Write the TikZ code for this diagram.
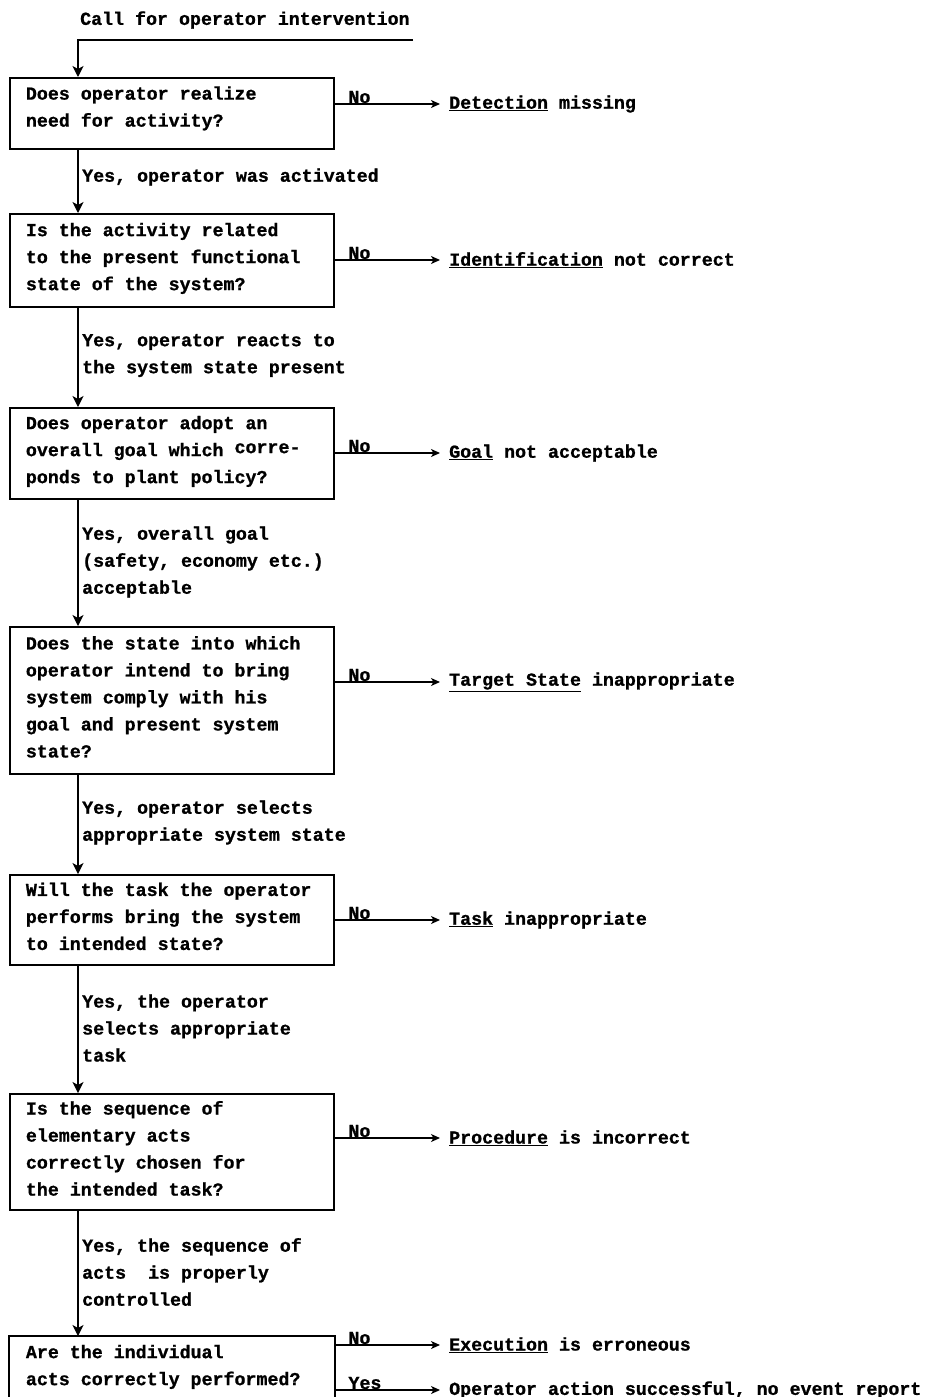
\documentclass[tikz,border=0pt]{standalone}
\usepackage{fontspec}
\setmonofont{Liberation Mono}[BoldFeatures={FakeBold=1}]
\usetikzlibrary{arrows.meta}
\newcommand\boxpad[1]{\endgraf\vspace*{#1}}
\begin{document}
\begin{tikzpicture}[x=1pt,y=-1pt,
  every node/.style={font=\ttfamily\bfseries\fontsize{18.3}{27}\selectfont, inner sep=0pt},
  qbox/.style={draw, line width=1.8pt, anchor=north west, text width=292pt, inner xsep=16pt, inner ysep=0pt, align=flush left, execute at end node={\boxpad{7pt}}},
  boxline/.style={line width=1.8pt},
  flow/.style={line width=1.4pt, -{Stealth[length=11pt,width=11pt,inset=3pt]}},
  side/.style={line width=1.3pt, -{Stealth[length=9pt,width=8pt,inset=2.5pt]}},
  lbl/.style={anchor=west, align=left, yshift=-2pt},
  res/.style={anchor=west, yshift=-2pt},
  nolbl/.style={anchor=base west, xshift=13pt, yshift=1pt}]
\useasboundingbox (0,0) rectangle (925,1397);
\clip (0,0) rectangle (925,1397);

% top input
\node[anchor=west, yshift=-2pt] (call) at (80,18) {Call for operator intervention};
\coordinate (cin) at (413,40);
\coordinate (sp) at (78,0);

% boxes
\node[qbox, minimum height=71pt, execute at end node={\boxpad{3pt}}] (b1) at (9,77) {Does operator realize\\need for activity?};
\node[qbox, minimum height=93pt, execute at end node={\boxpad{-3pt}}] (b2) at (9,213) {Is the activity related\\to the present functional\\state of the system?};
\node[qbox, minimum height=91pt, execute at end node={\boxpad{-3pt}}] (b3) at (9,407) {Does operator adopt an\\overall goal which \raisebox{3pt}{corre-}\\ponds to plant policy?};
\node[qbox, minimum height=147pt] (b4) at (9,626) {Does the state into which\\operator intend to bring\\system comply with his\\goal and present system\\state?};
\node[qbox, minimum height=90pt] (b5) at (9,874) {Will the task the operator\\performs bring the system\\to intended state?};
\node[qbox, minimum height=116pt] (b6) at (9,1093) {Is the sequence of\\elementary acts\\correctly chosen for\\the intended task?};
\node[qbox, draw=none, minimum height=67pt, execute at end node={}] (b7) at (9,1336) {Are the individual\\acts correctly performed?};
\draw[boxline] ([yshift=-60pt]b7.south west) -- (b7.north west) -- (b7.north east) -- ([yshift=-60pt]b7.south east);

% yes labels
\node[lbl] (y1) at (82,175) {Yes, operator was activated};
\node[lbl] (y2) at (82,353.5) {Yes, operator reacts to\\the system state present};
\node[lbl] (y3) at (82,560) {Yes, overall goal\\(safety, economy etc.)\\acceptable};
\node[lbl] (y4) at (82,820.5) {Yes, operator selects\\appropriate system state};
\node[lbl] (y5) at (82,1026) {Yes, the operator\\selects appropriate\\task};
\node[lbl] (y6) at (82,1270) {Yes, the sequence of\\acts\ \ is properly\\controlled};

% outcomes
\node[res] (o1) at (449,102) {\underline{Detection} missing};
\node[res] (o2) at (449,258) {\underline{Identification} not correct};
\node[res] (o3) at (449,451) {\underline{Goal} not acceptable};
\node[res] (o4) at (449,680) {\underline{Target State} inappropriate};
\node[res] (o5) at (449,918) {\underline{Task} inappropriate};
\node[res] (o6) at (449,1136) {\underline{Procedure} is incorrect};
\node[res] (o7) at (449,1343) {\underline{Execution} is erroneous};
\node[res] (o8) at (449,1388) {Operator action successful, no event report};

% main flow
\draw[flow] (cin) -- (sp |- cin) -- (sp |- b1.north);
\draw[flow] (sp |- b1.south) -- (sp |- b2.north);
\draw[flow] (sp |- b2.south) -- (sp |- b3.north);
\draw[flow] (sp |- b3.south) -- (sp |- b4.north);
\draw[flow] (sp |- b4.south) -- (sp |- b5.north);
\draw[flow] (sp |- b5.south) -- (sp |- b6.north);
\draw[flow] (sp |- b6.south) -- (sp |- b7.north);

% side branches
\draw[side] (b1.east |- o1.west) node[nolbl] (n1) {No} -- ([xshift=-9pt]o1.west);
\draw[side] (b2.east |- o2.west) node[nolbl] (n2) {No} -- ([xshift=-9pt]o2.west);
\draw[side] (b3.east |- o3.west) node[nolbl] (n3) {No} -- ([xshift=-9pt]o3.west);
\draw[side] (b4.east |- o4.west) node[nolbl] (n4) {No} -- ([xshift=-9pt]o4.west);
\draw[side] (b5.east |- o5.west) node[nolbl] (n5) {No} -- ([xshift=-9pt]o5.west);
\draw[side] (b6.east |- o6.west) node[nolbl] (n6) {No} -- ([xshift=-9pt]o6.west);
\draw[side] (b7.east |- o7.west) node[nolbl] (n7) {No} -- ([xshift=-9pt]o7.west);
\draw[side] (b7.east |- o8.west) node[nolbl] (n8) {Yes} -- ([xshift=-9pt]o8.west);
\end{tikzpicture}
\end{document}
